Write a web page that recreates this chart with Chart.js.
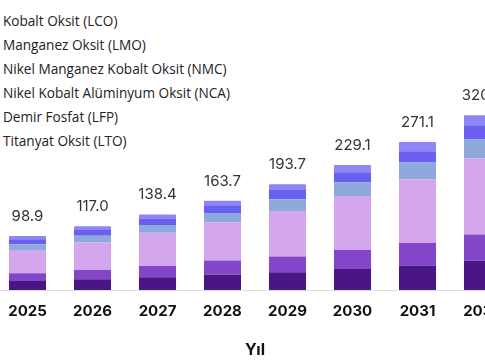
<!DOCTYPE html>
<html>
<head>
<meta charset="utf-8">
<script src="https://cdn.jsdelivr.net/npm/chart.js@4.4.0/dist/chart.umd.min.js"></script>
<style>
    html, body { margin: 0; padding: 0; background: #fff; overflow: hidden; }
    body { width: 485px; height: 360px; position: relative; }
    #legend { position: absolute; left: 3px; top: 9px; font-family: "Open Sans", sans-serif; font-size: 13.6px; color: #222; }
    #legend div { height: 24px; line-height: 24px; white-space: nowrap; }
    #wrap { position: absolute; left: -5px; top: 0; width: 520px; height: 360px; }
</style>
</head>
<body>
<div id="legend"></div>
<div id="wrap"><canvas id="chart"></canvas></div>
<script>
const years = ['2025', '2026', '2027', '2028', '2029', '2030', '2031', '2032'];
const seriesNames = [
    'Kobalt Oksit (LCO)',
    'Manganez Oksit (LMO)',
    'Nikel Manganez Kobalt Oksit (NMC)',
    'Nikel Kobalt Alüminyum Oksit (NCA)',
    'Demir Fosfat (LFP)',
    'Titanyat Oksit (LTO)'
];
const lco = [16.5, 19.6, 23.3, 27.8, 32.4, 38.5, 44.9, 53.7];
const lmo = [14.1, 17.0, 20.7, 26.2, 28.8, 34.8, 41.2, 48.2];
const nmc = [42.7, 50.5, 60.8, 70.2, 83.7, 99.1, 116.9, 139.2];
const nca = [10.4, 12.2, 14.1, 17.0, 21.4, 24.4, 30.8, 34.8];
const lfp = [9.1, 10.7, 12.0, 14.0, 17.0, 18.9, 20.3, 26.2];
const lto = [6.1, 7.0, 7.5, 8.5, 10.4, 13.4, 17.0, 18.3];
const totals = ['98.9', '117.0', '138.4', '163.7', '193.7', '229.1', '271.1', '320.4'];
const colors = ['#4a1685', '#8446c9', '#d3a6ee', '#8eaadc', '#6b5ff2', '#8f86f5'];

const values = [lco, lmo, nmc, nca, lfp, lto];

const legendDiv = document.getElementById('legend');
seriesNames.forEach(function (name) {
    const row = document.createElement('div');
    row.textContent = name;
    legendDiv.appendChild(row);
});

const totalLabels = {
    id: 'totalLabels',
    afterDatasetsDraw(chart) {
        const ctx = chart.ctx;
        const topMeta = chart.getDatasetMeta(chart.data.datasets.length - 1);
        ctx.save();
        ctx.font = '15px Inter, sans-serif';
        ctx.fillStyle = '#333';
        ctx.textAlign = 'center';
        ctx.textBaseline = 'bottom';
        topMeta.data.forEach(function (bar, i) {
            ctx.fillText(totals[i], bar.x, bar.y - 12);
        });
        ctx.restore();
    }
};

new Chart(document.getElementById('chart'), {
    type: 'bar',
    data: {
        labels: years,
        datasets: values.map(function (v, i) {
            return {
                label: seriesNames[i],
                data: v,
                backgroundColor: colors[i],
                barPercentage: 0.57,
                categoryPercentage: 1.0,
                borderRadius: 1
            };
        })
    },
    options: {
        responsive: true,
        maintainAspectRatio: false,
        animation: false,
        layout: { padding: { top: 99, left: 0, right: 0, bottom: 0 } },
        plugins: {
            legend: { display: false },
            tooltip: { enabled: false }
        },
        scales: {
            x: {
                stacked: true,
                grid: { display: false },
                border: { display: true, color: '#dddddd', width: 1 },
                ticks: {
                    color: '#111',
                    font: { family: 'Inter, sans-serif', size: 15, weight: 'bold' },
                    padding: 4
                },
                title: {
                    display: true,
                    text: 'Yıl',
                    color: '#111',
                    font: { family: 'Inter, sans-serif', size: 16, weight: 'bold' },
                    padding: { top: 14, bottom: 0 }
                },
                afterFit(scale) { scale.height = 70; }
            },
            y: {
                stacked: true,
                display: false,
                min: 0,
                max: 350
            }
        }
    },
    plugins: [totalLabels]
});
</script>
</body>
</html>
